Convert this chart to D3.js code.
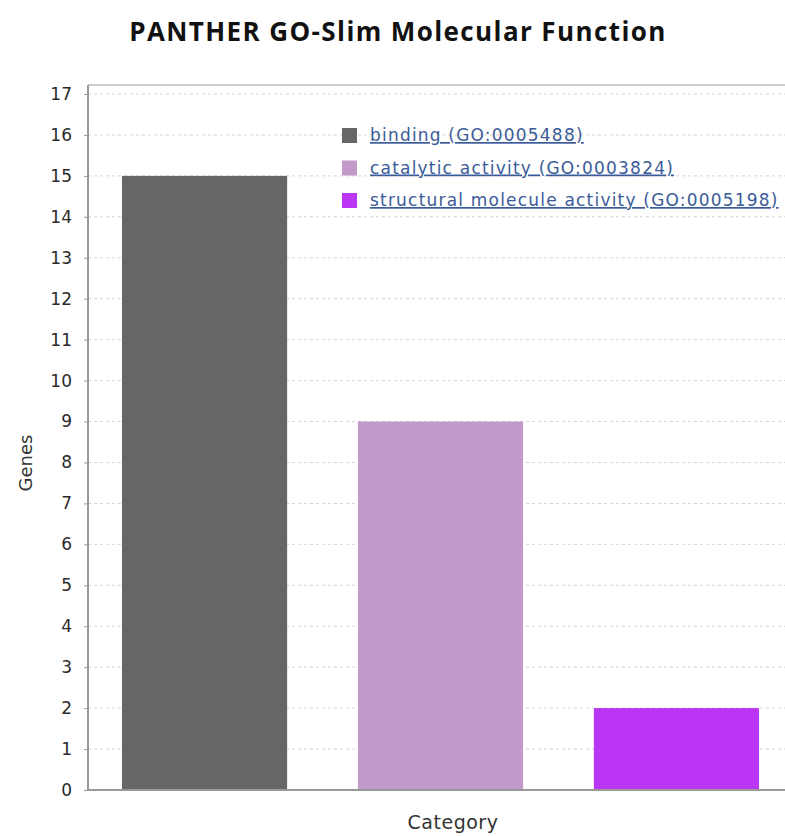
<!DOCTYPE html>
<html><head><meta charset="utf-8">
<script src="https://cdn.jsdelivr.net/npm/d3@7"></script>
<style>body{margin:0;background:#fff}</style>
</head><body>
<svg id="c" width="785" height="836"></svg>
<script>
const categories = ["binding (GO:0005488)", "catalytic activity (GO:0003824)", "structural molecule activity (GO:0005198)"];
const genes = [15, 9, 2];
const colors = ["#666666", "#c29ac9", "#bb35f4"];
const yTicks = [0,1,2,3,4,5,6,7,8,9,10,11,12,13,14,15,16,17];
const title = "PANTHER GO-Slim Molecular Function";

const svg = d3.select("#c");
const font = "DejaVu Sans, Verdana, sans-serif";
const L = 88, R = 793, T = 85, B = 790;
const y = d3.scaleLinear().domain([0, 17]).range([B, 94]);
const x = d3.scaleBand().domain(categories).range([L, R]).paddingInner(0.3).paddingOuter(0.144);

// title
svg.append("text").attr("x", 398).attr("y", 41).attr("text-anchor", "middle")
  .attr("font-family", "Open Sans, DejaVu Sans, sans-serif").attr("font-weight", "bold")
  .attr("font-size", 26).attr("letter-spacing", 1.4).attr("fill", "#111").text(title);

// grid
svg.append("g").selectAll("line").data(yTicks.filter(d => d > 0)).join("line")
  .attr("x1", L).attr("x2", 785).attr("y1", d => y(d)).attr("y2", d => y(d))
  .attr("stroke", "#d4d4d4").attr("stroke-width", 1).attr("stroke-dasharray", "3,3");

// top border
svg.append("line").attr("x1", L).attr("x2", 785).attr("y1", T).attr("y2", T)
  .attr("stroke", "#bbbbbb").attr("stroke-width", 1.5);

// bars
svg.append("g").selectAll("rect").data(categories).join("rect")
  .attr("x", d => x(d)).attr("width", x.bandwidth())
  .attr("y", (d, i) => y(genes[i])).attr("height", (d, i) => y(0) - y(genes[i]))
  .attr("fill", (d, i) => colors[i]);

// y axis
const ya = svg.append("g").attr("transform", `translate(${L},0)`)
  .call(d3.axisLeft(y).tickValues(yTicks).tickSize(4).tickPadding(12));
ya.select(".domain").attr("stroke", "#999").attr("stroke-width", 2).attr("d", `M0,${T}V${B}`);
ya.selectAll(".tick line").attr("stroke", "#999");
ya.selectAll(".tick text").attr("font-family", font).attr("font-size", 17).attr("fill", "#2a2a2a");

// x axis line
svg.append("line").attr("x1", L).attr("x2", 785).attr("y1", B).attr("y2", B)
  .attr("stroke", "#999").attr("stroke-width", 2);

// axis titles
svg.append("text").attr("transform", "translate(32,463) rotate(-90)").attr("text-anchor", "middle")
  .attr("font-family", font).attr("font-size", 18).attr("fill", "#333").text("Genes");
svg.append("text").attr("x", 453).attr("y", 829).attr("text-anchor", "middle")
  .attr("font-family", font).attr("font-size", 19).attr("letter-spacing", 0.5).attr("fill", "#333").text("Category");

// legend
const lg = svg.append("g").selectAll("g").data(categories).join("g")
  .attr("transform", (d, i) => `translate(342,${128 + i * 32.5})`);
lg.append("rect").attr("width", 15).attr("height", 15).attr("fill", (d, i) => colors[i]);
lg.append("text").attr("x", 28).attr("y", 13).attr("font-family", font).attr("font-size", 17)
  .attr("letter-spacing", 1.2)
  .attr("fill", "#3b5b99").attr("text-decoration", "underline").text(d => d);
</script>
</body></html>
